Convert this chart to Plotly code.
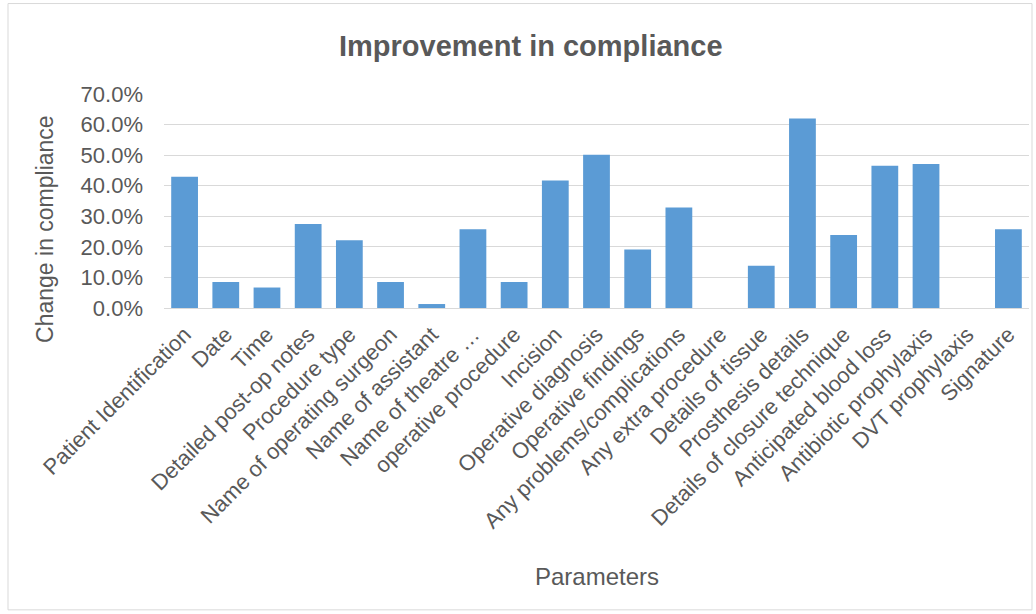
import plotly.graph_objects as go

categories = [
    "Patient Identification", "Date", "Time", "Detailed post-op notes",
    "Procedure type", "Name of operating surgeon", "Name of assistant",
    "Name of theatre …", "operative procedure", "Incision",
    "Operative diagnosis", "Operative findings", "Any problems/complications",
    "Any extra procedure", "Details of tissue", "Prosthesis details",
    "Details of closure technique", "Anticipated blood loss",
    "Antibiotic prophylaxis", "DVT prophylaxis", "Signature",
]
values = [0.429, 0.085, 0.067, 0.275, 0.222, 0.085, 0.013, 0.258, 0.085, 0.417,
          0.501, 0.191, 0.329, 0.0, 0.138, 0.620, 0.239, 0.465, 0.471, 0.0, 0.258]
y_ticks = [0.0, 0.1, 0.2, 0.3, 0.4, 0.5, 0.6, 0.7]

W, H = 1036, 614
L, R, T, B = 164, 1029, 93.7, 308.3
pw, ph = R - L, B - T

def px(x):
    return (x - L) / pw

def py(y):
    return (B - y) / ph

FONT = "Liberation Sans, Arial, sans-serif"
GREY = "#595959"

fig = go.Figure(go.Bar(
    x=categories, y=values,
    marker=dict(color="#5b9bd5", line=dict(width=0)),
))

fig.update_layout(
    width=W, height=H,
    margin=dict(l=L, r=W - R, t=T, b=H - B, autoexpand=False),
    paper_bgcolor="white", plot_bgcolor="white",
    showlegend=False, bargap=0.35,
    font=dict(family=FONT, color=GREY),
    xaxis=dict(
        tickangle=-45, tickfont=dict(size=22, color=GREY),
        showline=True, linecolor="#d9d9d9", linewidth=1,
        ticks="", showgrid=False, automargin=False,
        ticklabelstandoff=4,
    ),
    yaxis=dict(
        range=[0, 0.7], tickvals=y_ticks, tickformat=".1%",
        tickfont=dict(size=22, color=GREY),
        showgrid=True, gridcolor="#d9d9d9", gridwidth=1,
        zeroline=False, showline=False, ticks="",
        ticklabelstandoff=20, automargin=False,
    ),
    annotations=[
        dict(text="<b>Improvement in compliance</b>", x=px(531), y=py(46),
             xref="paper", yref="paper", showarrow=False,
             xanchor="center", yanchor="middle",
             font=dict(size=29, color=GREY, family=FONT)),
        dict(text="Change in compliance", x=px(45), y=py(229),
             xref="paper", yref="paper", showarrow=False, textangle=-90,
             xanchor="center", yanchor="middle",
             font=dict(size=23, color=GREY, family=FONT)),
        dict(text="Parameters", x=px(597), y=py(578),
             xref="paper", yref="paper", showarrow=False,
             xanchor="center", yanchor="middle",
             font=dict(size=24, color=GREY, family=FONT)),
    ],
    shapes=[
        dict(type="rect", xref="paper", yref="paper",
             x0=px(8), x1=px(1032), y0=py(611), y1=py(3),
             line=dict(color="#d9d9d9", width=1), layer="below"),
    ],
)

fig.write_html("out.html")
